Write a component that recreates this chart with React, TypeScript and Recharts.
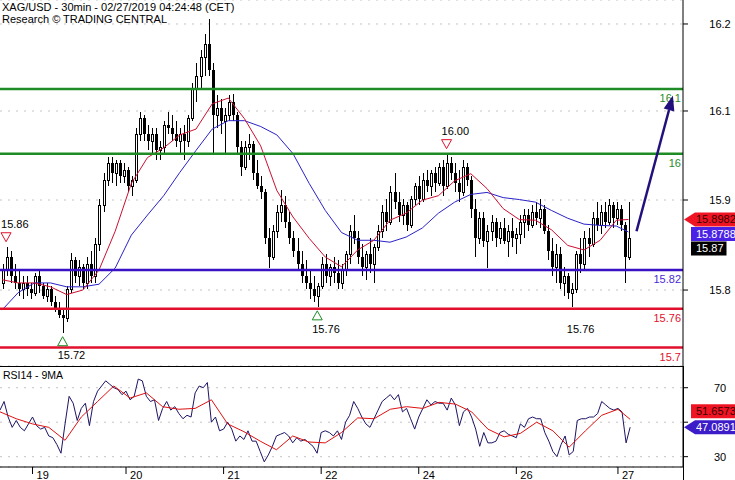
import React from "react";
import {
  ComposedChart,
  Bar,
  Line,
  XAxis,
  YAxis,
  CartesianGrid,
  ReferenceLine,
  ReferenceDot,
} from "recharts";

const FONT = '"Liberation Sans", Arial, Helvetica, sans-serif';
const W = 735;
const AXIS_W = 52;
const MAIN_H = 366;
const RSI_H = 114;
const SLOTS = 169; // candles + empty space on the right

// hourly candles, XAG/USD
const opens = [
  15.80, 15.82, 15.84, 15.81, 15.80, 15.79, 15.80, 15.79, 15.785, 15.81,
  15.795, 15.78, 15.79, 15.77, 15.76, 15.75, 15.745, 15.79, 15.835, 15.81,
  15.825, 15.80, 15.83, 15.81, 15.86, 15.92, 15.96, 15.985, 15.97, 15.985,
  15.965, 15.975, 15.95, 15.96, 16.03, 16.055, 16.03, 16.02, 16.03, 16.005,
  16.01, 16.045, 16.04, 16.03, 16.02, 16.03, 16.02, 16.055, 16.10, 16.12,
  16.15, 16.17, 16.13, 16.06, 16.07, 16.05, 16.06, 16.08, 16.06, 16.01,
  15.98, 16.01, 16.015, 15.97, 15.95, 15.94, 15.87, 15.84, 15.88, 15.91,
  15.92, 15.895, 15.87, 15.85, 15.83, 15.81, 15.80, 15.79, 15.78, 15.795,
  15.83, 15.81, 15.825, 15.815, 15.80, 15.82, 15.845, 15.88, 15.87, 15.84,
  15.825, 15.845, 15.83, 15.855, 15.88, 15.91, 15.895, 15.94, 15.925, 15.905,
  15.92, 15.89, 15.93, 15.95, 15.93, 15.96, 15.95, 15.97, 15.955, 15.98,
  15.95, 15.985, 15.97, 15.955, 15.94, 15.98, 15.96, 15.915, 15.87, 15.90,
  15.865, 15.88, 15.895, 15.87, 15.885, 15.865, 15.88, 15.87, 15.875, 15.895,
  15.905, 15.89, 15.91, 15.90, 15.915, 15.88, 15.85, 15.825, 15.845, 15.80,
  15.81, 15.785, 15.79, 15.845, 15.83, 15.87, 15.86, 15.90, 15.89, 15.91,
  15.895, 15.92, 15.90, 15.915, 15.89, 15.84,
];
const highs = [
  15.83, 15.856, 15.85, 15.83, 15.82, 15.81, 15.81, 15.80, 15.815, 15.82,
  15.80, 15.80, 15.795, 15.78, 15.77, 15.76, 15.795, 15.846, 15.84, 15.835,
  15.83, 15.84, 15.85, 15.87, 15.93, 15.97, 15.995, 15.995, 15.99, 15.99,
  15.985, 15.98, 15.965, 16.04, 16.065, 16.06, 16.045, 16.04, 16.04, 16.02,
  16.05, 16.065, 16.06, 16.05, 16.04, 16.045, 16.06, 16.11, 16.14, 16.16,
  16.185, 16.209, 16.14, 16.09, 16.085, 16.07, 16.09, 16.092, 16.065, 16.02,
  16.02, 16.03, 16.02, 15.99, 15.965, 15.945, 15.885, 15.89, 15.92, 15.943,
  15.935, 15.91, 15.88, 15.87, 15.85, 15.835, 15.82, 15.81, 15.80, 15.84,
  15.845, 15.83, 15.84, 15.835, 15.83, 15.85, 15.89, 15.905, 15.88, 15.86,
  15.85, 15.87, 15.86, 15.89, 15.92, 15.93, 15.95, 15.97, 15.94, 15.93,
  15.925, 15.935, 15.955, 15.965, 15.97, 15.975, 15.975, 15.98, 15.985, 15.99,
  16.00, 15.995, 15.985, 15.975, 15.99, 15.985, 15.965, 15.93, 15.91, 15.91,
  15.89, 15.905, 15.90, 15.895, 15.90, 15.89, 15.90, 15.885, 15.905, 15.915,
  15.915, 15.92, 15.925, 15.93, 15.92, 15.89, 15.87, 15.86, 15.855, 15.825,
  15.815, 15.80, 15.85, 15.87, 15.88, 15.885, 15.91, 15.925, 15.92, 15.925,
  15.93, 15.925, 15.925, 15.92, 15.895, 15.925,
];
const lows = [
  15.79, 15.81, 15.80, 15.79, 15.78, 15.775, 15.78, 15.775, 15.78, 15.785,
  15.775, 15.77, 15.765, 15.755, 15.745, 15.723, 15.74, 15.785, 15.80, 15.795,
  15.79, 15.79, 15.80, 15.80, 15.85, 15.91, 15.95, 15.955, 15.95, 15.955,
  15.955, 15.94, 15.935, 15.955, 16.02, 16.02, 16.005, 16.00, 15.99, 15.99,
  16.00, 16.03, 16.02, 16.01, 16.00, 15.99, 16.01, 16.05, 16.08, 16.10,
  16.12, 16.12, 16.00, 16.04, 16.03, 16.00, 16.05, 16.05, 16.00, 15.965,
  15.975, 15.99, 15.96, 15.945, 15.93, 15.86, 15.823, 15.835, 15.87, 15.895,
  15.885, 15.86, 15.84, 15.82, 15.80, 15.79, 15.775, 15.77, 15.763, 15.79,
  15.80, 15.795, 15.80, 15.79, 15.79, 15.81, 15.83, 15.86, 15.83, 15.81,
  15.805, 15.815, 15.80, 15.85, 15.87, 15.88, 15.89, 15.915, 15.895, 15.89,
  15.88, 15.885, 15.92, 15.92, 15.925, 15.94, 15.935, 15.94, 15.95, 15.935,
  15.945, 15.96, 15.94, 15.925, 15.935, 15.95, 15.90, 15.84, 15.86, 15.855,
  15.823, 15.865, 15.855, 15.86, 15.86, 15.84, 15.855, 15.845, 15.86, 15.87,
  15.88, 15.885, 15.89, 15.885, 15.875, 15.835, 15.81, 15.80, 15.79, 15.78,
  15.775, 15.763, 15.785, 15.815, 15.82, 15.84, 15.855, 15.88, 15.875, 15.885,
  15.89, 15.885, 15.89, 15.88, 15.80, 15.835,
];
const closes = [
  15.82, 15.84, 15.81, 15.80, 15.79, 15.80, 15.79, 15.785, 15.81, 15.795,
  15.78, 15.79, 15.77, 15.76, 15.75, 15.745, 15.79, 15.835, 15.81, 15.825,
  15.80, 15.83, 15.81, 15.86, 15.92, 15.96, 15.985, 15.97, 15.985, 15.965,
  15.975, 15.95, 15.96, 16.03, 16.055, 16.03, 16.02, 16.03, 16.005, 16.01,
  16.045, 16.04, 16.03, 16.02, 16.03, 16.02, 16.055, 16.10, 16.12, 16.15,
  16.17, 16.13, 16.06, 16.07, 16.05, 16.06, 16.08, 16.06, 16.01, 15.98,
  16.01, 16.015, 15.97, 15.95, 15.94, 15.87, 15.84, 15.88, 15.91, 15.92,
  15.895, 15.87, 15.85, 15.83, 15.81, 15.80, 15.79, 15.78, 15.795, 15.83,
  15.81, 15.825, 15.815, 15.80, 15.82, 15.845, 15.88, 15.87, 15.84, 15.825,
  15.845, 15.83, 15.855, 15.88, 15.91, 15.895, 15.94, 15.925, 15.905, 15.92,
  15.89, 15.93, 15.95, 15.93, 15.96, 15.95, 15.97, 15.955, 15.98, 15.95,
  15.985, 15.97, 15.955, 15.94, 15.98, 15.96, 15.915, 15.87, 15.90, 15.865,
  15.88, 15.895, 15.87, 15.885, 15.865, 15.88, 15.87, 15.875, 15.895, 15.905,
  15.89, 15.91, 15.90, 15.915, 15.88, 15.85, 15.825, 15.845, 15.80, 15.81,
  15.785, 15.79, 15.845, 15.83, 15.87, 15.86, 15.90, 15.89, 15.91, 15.895,
  15.92, 15.90, 15.915, 15.89, 15.84, 15.87,
];

// moving averages, read every 4th candle
const maAt = [
  0, 4, 8, 12, 16, 20, 24, 28, 32, 36, 40, 44, 48, 52, 56, 60, 64, 68, 72, 76,
  80, 84, 88, 92, 96, 100, 104, 108, 112, 116, 120, 124, 128, 132, 136, 140, 144, 148, 152, 155,
];
const maFast = [
  15.805, 15.80, 15.80, 15.794, 15.782, 15.789, 15.82, 15.88, 15.954, 15.994,
  16.009, 16.029, 16.038, 16.077, 16.086, 16.054, 16.012, 15.943, 15.902, 15.869,
  15.84, 15.825, 15.851, 15.866, 15.897, 15.908, 15.928, 15.935, 15.958, 15.969,
  15.946, 15.915, 15.898, 15.897, 15.882, 15.858, 15.851, 15.866, 15.897, 15.8982,
];
const maSlow = [
  15.758, 15.785, 15.80, 15.80, 15.794, 15.794, 15.798, 15.823, 15.874, 15.905,
  15.935, 15.971, 16.005, 16.038, 16.051, 16.051, 16.042, 16.029, 16.00, 15.954,
  15.912, 15.878, 15.866, 15.866, 15.863, 15.871, 15.885, 15.908, 15.925, 15.937,
  15.94, 15.932, 15.929, 15.925, 15.912, 15.90, 15.891, 15.889, 15.888, 15.8788,
];

const rsi = [
  57, 62, 53, 47, 51, 47, 45, 49, 53, 48,
  46, 47, 42, 41, 37, 32, 49, 65, 61, 51,
  58, 61, 48, 62, 68, 71, 74, 72, 70, 69,
  66, 68, 63, 65, 75, 74, 65, 62, 63, 51,
  58, 62, 57, 59, 55, 52, 54, 53, 67, 71,
  70, 73, 50, 53, 45, 46, 50, 46, 39, 42,
  40, 45, 39, 39, 33, 27, 31, 36, 42, 43,
  44, 42, 38, 41, 39, 40, 38, 36, 32, 44,
  45, 44, 42, 45, 40, 50, 54, 62, 58, 53,
  49, 47, 52, 57, 62, 64, 66, 63, 66, 56,
  58, 52, 46, 53, 58, 63, 60, 62, 61, 61,
  57, 64, 60, 48, 56, 58, 53, 46, 36, 44,
  38, 38, 39, 44, 45, 43, 42, 41, 49, 47,
  52, 53, 52, 52, 44, 39, 33, 30, 37, 42,
  31, 33, 51, 52, 52, 53, 53, 55, 62, 60,
  58, 57, 58, 56, 38, 47.0891,
];
const rsiMa = [
  56, 52, 49, 47, 39.5, 53, 62, 71, 64, 67,
  59, 57.5, 58, 63, 49, 44.5, 39, 34, 42, 38.5,
  38, 44, 52.5, 52, 57.5, 59, 58, 61.5, 60.5, 56,
  46, 41.5, 43.5, 50, 45, 35.5, 45, 54, 57.5, 51.6573,
];

const priceDomain = [15.6715, 16.2377];
const priceTicks = [16.2006, 16.066, 15.9283, 15.789];
const priceTickLabels = ["16.2", "16.1", "15.9", "15.8"];

const rsiDomain = [24, 82.6];
const rsiTicks = [30, 50, 70];
const rsiTickLabels = ["30", "", "70"];

const dayTicks = [8, 31, 55, 79, 103, 127, 152];
const dayLabels = ["19", "20", "21", "22", "24", "26", "27"];

const levelValues = [16.1, 16.0, 15.82, 15.76, 15.7];
const levelLabels = ["16.1", "16", "15.82", "15.76", "15.7"];
const levelKinds = ["res", "res", "pivot", "sup", "sup"];

const markerIdx = [1, 15, 78, 110, 141];
const markerVals = [15.856, 15.723, 15.763, 16.0, 15.763];
const markerLabels = ["15.86", "15.72", "15.76", "16.00", "15.76"];
const markerKinds = ["high", "low", "low", "high", "lowText"];

const arrowIdx = [157, 166];
const arrowVals = [15.88, 16.09];

const tagValues = [15.8982, 15.8788, 15.87];
const tagLabels = ["15.8982", "15.8788", "15.87"];
const tagKinds = ["red", "blue", "black"];

const rsiTagValues = [51.6573, 47.0891];
const rsiTagLabels = ["51.6573", "47.0891"];
const rsiTagKinds = ["redBox", "bluePointer"];

const LEVEL_STYLE: Record<string, { line: string; text: string }> = {
  res: { line: "#1f8b24", text: "#2a8a2a" },
  pivot: { line: "#3a12c6", text: "#4a2ad8" },
  sup: { line: "#e2102c", text: "#e2102c" },
};
const TAG_STYLE: Record<string, { bg: string; fg: string; pointer: boolean }> = {
  red: { bg: "#ee1424", fg: "#3a0000", pointer: true },
  blue: { bg: "#4a22e6", fg: "#ffffff", pointer: false },
  black: { bg: "#000000", fg: "#ffffff", pointer: false },
  redBox: { bg: "#ee1424", fg: "#3a0000", pointer: false },
  bluePointer: { bg: "#3c1cc8", fg: "#ffffff", pointer: true },
};

const maFastMap = new Map(maAt.map((idx, k) => [idx, maFast[k]]));
const maSlowMap = new Map(maAt.map((idx, k) => [idx, maSlow[k]]));
const rsiMaMap = new Map(maAt.map((idx, k) => [idx, rsiMa[k]]));

const rows = Array.from({ length: SLOTS }, (_, i) => ({
  i,
  o: opens[i],
  h: highs[i],
  l: lows[i],
  c: closes[i],
  maF: maFastMap.get(i),
  maS: maSlowMap.get(i),
  rsi: rsi[i],
  rsiMa: rsiMaMap.get(i),
}));

const textWidth = (s: string) =>
  s.split("").reduce((w, ch) => w + (/[0-9]/.test(ch) ? 6.1 : 3.1), 0);

// move overlapping tags apart; "down" keeps the top one, "up" keeps the bottom one
function stackShifts(values: number[], pxPerUnit: number, h: number, dir: "down" | "up") {
  const shifts = values.map(() => 0);
  if (dir === "down") {
    const order = values.map((_, k) => k).sort((a, b) => values[b] - values[a]);
    let last = -Infinity;
    for (const k of order) {
      const yc = -values[k] * pxPerUnit;
      const placed = Math.max(yc, last + h);
      shifts[k] = placed - yc;
      last = placed;
    }
  } else {
    const order = values.map((_, k) => k).sort((a, b) => values[a] - values[b]);
    let last = Infinity;
    for (const k of order) {
      const yc = -values[k] * pxPerUnit;
      const placed = Math.min(yc, last - h);
      shifts[k] = placed - yc;
      last = placed;
    }
  }
  return shifts;
}

const tagShifts = stackShifts(tagValues, MAIN_H / (priceDomain[1] - priceDomain[0]), 14.5, "down");
const rsiTagShifts = stackShifts(rsiTagValues, (RSI_H - 13) / (rsiDomain[1] - rsiDomain[0]), 16, "up");

const Candle = (props: any) => {
  const { x, y, width, height, payload } = props;
  if (!payload || payload.h == null) return <g />;
  const { o, h, l, c } = payload;
  const k = h - l > 0 ? height / (h - l) : 0;
  const cx = Math.round(x + width / 2) + 0.5;
  const yO = y + (h - o) * k;
  const yC = y + (h - c) * k;
  const top = Math.round(Math.min(yO, yC));
  const bot = Math.round(Math.max(yO, yC));
  const up = c >= o;
  return (
    <g shapeRendering="crispEdges">
      <line x1={cx} x2={cx} y1={y} y2={y + height} stroke="#000" strokeWidth={1} />
      {up ? (
        <rect x={cx - 1} y={top + 0.5} width={2} height={Math.max(bot - top, 1)} fill="#fff" stroke="#000" strokeWidth={1} />
      ) : (
        <rect x={cx - 1.5} y={top} width={3} height={Math.max(bot - top, 1)} fill="#000" />
      )}
    </g>
  );
};

const levelLabel = (text: string, color: string) => (lp: any) => {
  const vb = lp.viewBox;
  return (
    <text x={vb.x + vb.width - 2} y={vb.y + 13} textAnchor="end" fontSize={11} fontFamily={FONT} fill={color}>
      {text}
    </text>
  );
};

const tagLabel = (text: string, kind: string, shift: number) => (lp: any) => {
  const vb = lp.viewBox;
  const st = TAG_STYLE[kind];
  const right = vb.x + vb.width;
  const cy = vb.y + shift;
  const x0 = right + 8;
  const x1 = Math.min(W, x0 + textWidth(text) + 8);
  const top = cy - 7;
  const bot = cy + 7;
  const d = st.pointer
    ? `M${right + 1},${cy} L${x0 + 4},${top} L${x1},${top} L${x1},${bot} L${x0 + 4},${bot} Z`
    : `M${x0},${top} H${x1} V${bot} H${x0} Z`;
  return (
    <g>
      <path d={d} fill={st.bg} />
      <text x={x0 + 5} y={cy + 4} fontSize={11} fontFamily={FONT} fill={st.fg}>
        {text}
      </text>
    </g>
  );
};

const markerShape = (kind: string, label: string) => (p: any) => {
  const { cx, cy } = p;
  if (kind === "high") {
    const t = cy - 14;
    return (
      <g>
        <polygon points={`${cx - 5},${t} ${cx + 5},${t} ${cx},${t + 9}`} fill="#fff" stroke="#e2102c" strokeWidth={1} />
        <text x={cx - 5} y={cy - 19} fontSize={11} fontFamily={FONT} fill="#000">
          {label}
        </text>
      </g>
    );
  }
  const t = cy + 4;
  return (
    <g>
      {kind === "low" && (
        <polygon points={`${cx - 5},${t + 9} ${cx + 5},${t + 9} ${cx},${t}`} fill="#fff" stroke="#1f8b24" strokeWidth={1} />
      )}
      <text x={cx - 5} y={cy + 26} fontSize={11} fontFamily={FONT} fill="#000">
        {label}
      </text>
    </g>
  );
};

const ArrowShape = (p: any) => {
  const { x1, y1, x2, y2 } = p;
  const a = Math.atan2(y2 - y1, x2 - x1);
  const len = 15;
  const half = 5.5;
  const bx = x2 - len * Math.cos(a);
  const by = y2 - len * Math.sin(a);
  const px = half * Math.sin(a);
  const py = -half * Math.cos(a);
  return (
    <g>
      <line x1={x1} y1={y1} x2={bx} y2={by} stroke="#22107c" strokeWidth={2.5} />
      <polygon points={`${x2},${y2} ${bx + px},${by + py} ${bx - px},${by - py}`} fill="#22107c" />
    </g>
  );
};

const axisTick = (ticks: number[], labels: string[]) => (p: any) => {
  const k = ticks.indexOf(p.payload.value);
  return (
    <text x={p.x + 32} y={p.y + 4} textAnchor="middle" fontSize={11} fontFamily={FONT} fill="#000">
      {k >= 0 ? labels[k] : ""}
    </text>
  );
};

const DayTick = (p: any) => {
  const k = dayTicks.indexOf(p.payload.value);
  return (
    <g>
      <line x1={p.x} x2={p.x} y1={p.y} y2={p.y + 7} stroke="#000" />
      <text x={p.x + 4} y={p.y + 12} fontSize={11} fontFamily={FONT} fill="#000">
        {k >= 0 ? dayLabels[k] : ""}
      </text>
    </g>
  );
};

export default function App() {
  return (
    <div style={{ position: "absolute", left: 0, top: 0, width: W, height: 480, background: "#fff", fontFamily: FONT }}>
      <div style={{ position: "absolute", left: 0, top: 0 }}>
        <ComposedChart width={W} height={MAIN_H} data={rows} margin={{ top: 0, right: 0, bottom: 0, left: 0 }}>
          <CartesianGrid vertical={false} stroke="#c4c4c4" strokeDasharray="2 6" />
          <XAxis dataKey="i" type="category" hide />
          <YAxis
            orientation="right"
            width={AXIS_W}
            domain={priceDomain}
            allowDataOverflow
            ticks={priceTicks}
            tick={axisTick(priceTicks, priceTickLabels)}
            tickSize={5}
            tickMargin={0}
            axisLine={{ stroke: "#000" }}
            tickLine={{ stroke: "#000" }}
          />
          <Bar
            dataKey={(d: any) => (d.h == null ? null : [d.l, d.h])}
            barSize={3}
            shape={Candle}
            isAnimationActive={false}
          />
          <Line dataKey="maS" stroke="#2a22c8" strokeWidth={1} dot={false} activeDot={false} connectNulls isAnimationActive={false} />
          <Line dataKey="maF" stroke="#cc1030" strokeWidth={1} dot={false} activeDot={false} connectNulls isAnimationActive={false} />
          {levelValues.map((v, k) => (
            <ReferenceLine
              key={`lvl-${k}`}
              y={v}
              stroke={LEVEL_STYLE[levelKinds[k]].line}
              strokeWidth={2.5}
              label={levelLabel(levelLabels[k], LEVEL_STYLE[levelKinds[k]].text)}
            />
          ))}
          {markerIdx.map((idx, k) => (
            <ReferenceDot
              key={`mk-${k}`}
              x={idx}
              y={markerVals[k]}
              r={1}
              shape={markerShape(markerKinds[k], markerLabels[k])}
            />
          ))}
          <ReferenceLine
            segment={[
              { x: arrowIdx[0], y: arrowVals[0] },
              { x: arrowIdx[1], y: arrowVals[1] },
            ]}
            shape={ArrowShape}
          />
          {tagValues.map((v, k) => (
            <ReferenceLine
              key={`tag-${k}`}
              y={v}
              stroke="none"
              label={tagLabel(tagLabels[k], tagKinds[k], tagShifts[k])}
            />
          ))}
        </ComposedChart>
      </div>
      <div style={{ position: "absolute", left: 0, top: MAIN_H }}>
        <ComposedChart width={W} height={RSI_H} data={rows} margin={{ top: 0, right: 0, bottom: 0, left: 0 }}>
          <CartesianGrid vertical={false} stroke="#c4c4c4" strokeDasharray="2 6" />
          <XAxis
            dataKey="i"
            type="category"
            height={13}
            ticks={dayTicks}
            interval={0}
            tick={DayTick}
            tickSize={0}
            tickMargin={0}
            tickLine={false}
            axisLine={{ stroke: "#000" }}
          />
          <YAxis
            orientation="right"
            width={AXIS_W}
            domain={rsiDomain}
            allowDataOverflow
            ticks={rsiTicks}
            tick={axisTick(rsiTicks, rsiTickLabels)}
            tickSize={5}
            tickMargin={0}
            axisLine={{ stroke: "#000" }}
            tickLine={{ stroke: "#000" }}
          />
          <Line dataKey="rsi" stroke="#1c1464" strokeWidth={1} dot={false} activeDot={false} isAnimationActive={false} />
          <Line dataKey="rsiMa" stroke="#dd1111" strokeWidth={1} dot={false} activeDot={false} connectNulls isAnimationActive={false} />
          {rsiTagValues.map((v, k) => (
            <ReferenceLine
              key={`rtag-${k}`}
              y={v}
              stroke="none"
              label={tagLabel(rsiTagLabels[k], rsiTagKinds[k], rsiTagShifts[k])}
            />
          ))}
        </ComposedChart>
      </div>
      <div style={{ position: "absolute", left: 0, top: MAIN_H, width: W - AXIS_W + 1, height: 1, background: "#000" }} />
      <div style={{ position: "absolute", left: W - AXIS_W, top: MAIN_H, width: 1, height: 480 - MAIN_H, background: "#000" }} />
      <div style={{ position: "absolute", left: 2, top: 1, fontSize: 11, lineHeight: "12px", color: "#000", whiteSpace: "nowrap" }}>
        XAG/USD - 30min - 02/27/2019 04:24:48 (CET)
        <br />
        Research © TRADING CENTRAL
      </div>
      <div style={{ position: "absolute", left: 3, top: MAIN_H + 3, fontSize: 10.5, lineHeight: "12px", color: "#000" }}>
        RSI14 - 9MA
      </div>
    </div>
  );
}
